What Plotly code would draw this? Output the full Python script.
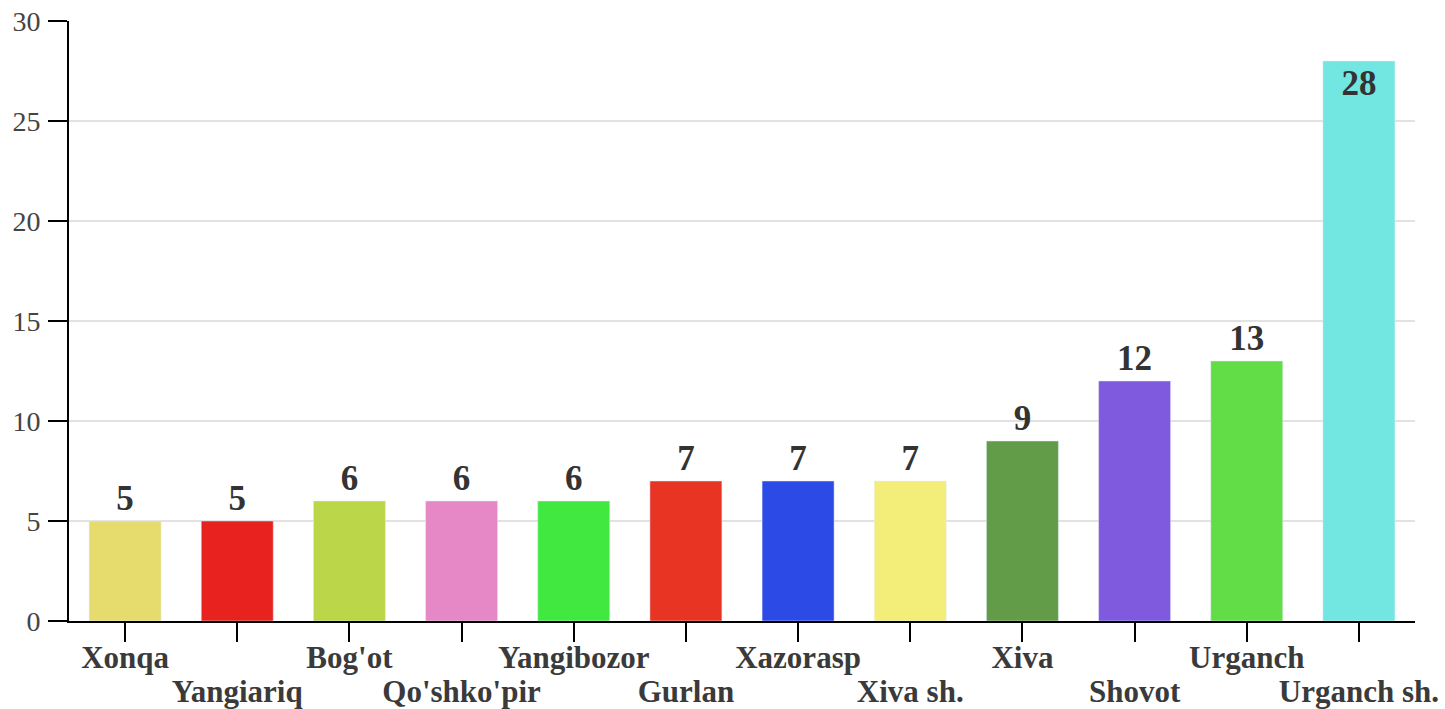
import plotly.graph_objects as go

categories = ["Xonqa", "Yangiariq", "Bog'ot", "Qo'shko'pir", "Yangibozor", "Gurlan",
              "Xazorasp", "Xiva sh.", "Xiva", "Shovot", "Urganch", "Urganch sh."]
values = [5, 5, 6, 6, 6, 7, 7, 7, 9, 12, 13, 28]
colors = ["#e6dc6e", "#e8221f", "#bbd648", "#e688c6", "#40e840", "#e83422",
          "#2c4ae6", "#f3ee7a", "#629c48", "#7f5ade", "#62dd48", "#72e6e0"]
y_ticks = [0, 5, 10, 15, 20, 25, 30]

FONT = "Liberation Serif, Times New Roman, serif"

row1 = [c if i % 2 == 0 else "" for i, c in enumerate(categories)]
row2 = [c for i, c in enumerate(categories) if i % 2 == 1]

positions = ["inside" if v == max(values) else "outside" for v in values]

fig = go.Figure()
fig.add_trace(go.Bar(
    x=categories, y=values, marker=dict(color=colors, line=dict(width=0)),
    text=values, textposition=positions, insidetextanchor="end",
    textfont=dict(family=FONT, size=35, color="#333", weight="bold"),
    cliponaxis=False, showlegend=False,
))
# invisible twin on overlay axis to carry second row of labels
fig.add_trace(go.Bar(
    x=categories, y=values, xaxis="x2", marker=dict(color="rgba(0,0,0,0)"),
    hoverinfo="skip", showlegend=False,
))

fig.update_layout(
    width=1445, height=709,
    margin=dict(l=69, r=30, t=21, b=88),
    paper_bgcolor="white", plot_bgcolor="white",
    bargap=0.358,
    font=dict(family=FONT),
    xaxis=dict(
        type="category", range=[-0.5, 11.5], automargin=False,
        tickvals=categories, ticktext=row1,
        ticks="outside", ticklen=19, tickwidth=2, tickcolor="black",
        ticklabelstandoff=-11,
        showline=True, linewidth=2, linecolor="black",
        showgrid=False, zeroline=False,
        tickfont=dict(family=FONT, size=31, color="#3a3a3a", weight="bold"),
    ),
    xaxis2=dict(
        type="category", overlaying="x", anchor="y", side="bottom",
        range=[-0.5, 11.5], automargin=False,
        tickvals=row2, ticktext=row2,
        ticks="outside", ticklen=19, tickwidth=2, tickcolor="rgba(0,0,0,0)",
        ticklabelstandoff=24,
        showline=False, showgrid=False, zeroline=False,
        tickfont=dict(family=FONT, size=31, color="#3a3a3a", weight="bold"),
    ),
    yaxis=dict(
        range=[0, 30], tickvals=y_ticks, automargin=False,
        ticks="outside", ticklen=19, tickwidth=2, tickcolor="black",
        ticklabelstandoff=2,
        showline=True, linewidth=2, linecolor="black",
        showgrid=True, gridcolor="#e2e2e2", gridwidth=1.5,
        zeroline=False,
        tickfont=dict(family=FONT, size=28, color="#444"),
    ),
)

fig.write_html("out.html", config={"displayModeBar": False},
               post_script="document.body.style.margin='0';document.body.style.overflow='hidden';")
